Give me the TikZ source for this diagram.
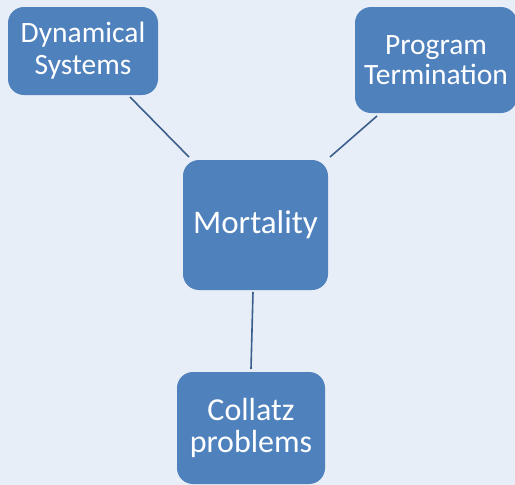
\documentclass[tikz,border=0pt]{standalone}
\usepackage{fontspec}
\setmainfont{Carlito}
\definecolor{bg}{HTML}{E8EEF7}
\definecolor{boxfill}{HTML}{4F81BD}
\definecolor{linec}{HTML}{3B5F8C}
\begin{document}
\begin{tikzpicture}[x=1pt,y=-1pt,
  topicbox/.style={fill=boxfill, rounded corners=16pt, text=white, align=center,
    inner sep=0pt, font=\fontsize{29.5}{32}\selectfont},
  link/.style={draw=linec, line width=1.6pt}]
\fill[bg] (0,0) rectangle (515,485);
\useasboundingbox (0,0) rectangle (515,485);
\node[topicbox, minimum width=150pt, minimum height=88pt] (dyn) at (83,51) {Dynamical\\Systems};
\node[topicbox, minimum width=162pt, minimum height=106pt, font=\fontsize{29.5}{30}\selectfont] (prog) at (436,60) {Program\\Termination};
\node[topicbox, minimum width=145pt, minimum height=130pt, font=\fontsize{33}{36}\selectfont] (mort) at (255.5,225) {Mortality};
\node[topicbox, minimum width=148pt, minimum height=112pt, font=\fontsize{32}{32}\selectfont] (coll) at (251,428) {Collatz\\problems};
\coordinate (d1) at (130,97);
\coordinate (d2) at (189,157);
\coordinate (p1) at (377,116);
\coordinate (p2) at (330,157);
\coordinate (c1) at (253,292);
\coordinate (c2) at (251,369);
\draw[link] (d1) -- (d2);
\draw[link] (p1) -- (p2);
\draw[link] (c1) -- (c2);
\end{tikzpicture}
\end{document}
